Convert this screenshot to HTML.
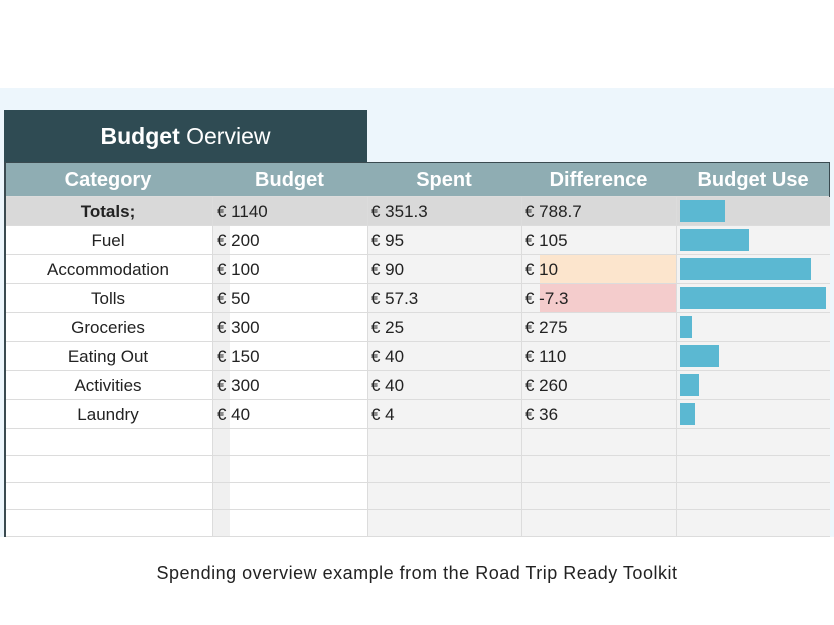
<!DOCTYPE html>
<html><head><meta charset="utf-8"><style>
body{margin:0;width:834px;height:625px;background:#fff;position:relative;overflow:hidden;font-family:"Liberation Sans",Arial,sans-serif}
.a{position:absolute;box-sizing:border-box}
.c{font-size:17px;color:#222;line-height:29px;white-space:nowrap}
.h{font-size:20px;font-weight:bold;color:#fff;line-height:34px;text-align:center}
</style></head><body>
<div class="a" style="left:0;top:88px;width:834px;height:449px;background:#edf6fc"></div>
<div class="a" style="left:4px;top:110px;width:363px;height:53px;background:#2f4b53;color:#fff;font-size:23px;line-height:53px;text-align:center"><b>Budget</b> Oerview</div>
<div id="t"></div>
<div class="a" style="left:0;top:563px;width:834px;text-align:center;font-size:18px;letter-spacing:0.5px;color:#222">Spending overview example from the Road Trip Ready Toolkit</div>
<script>
const categories=["Fuel","Accommodation","Tolls","Groceries","Eating Out","Activities","Laundry"];
const budget=[200,100,50,300,150,300,40];
const spent=[95,90,57.3,25,40,40,4];
const headers=["Category","Budget","Spent","Difference","Budget Use"];
const colX=[4,212,367,521,676,830];
const t=document.getElementById('t');
function box(x,y,w,h,bg,name){const d=document.createElement('div');d.className='a';d.style.cssText=`left:${x}px;top:${y}px;width:${w}px;height:${h}px;background:${bg}`;


t.appendChild(d);return d;}
function txt(x,y,w,s,align,name,bold){const d=box(x,y,w,29,'transparent',name);d.classList.add('c');d.textContent=s;d.style.textAlign=align;if(bold)d.style.fontWeight='bold';return d;}
const fmt=v=>String(Math.round(v*10)/10);
box(4,163,826,34,'#8fadb3','header-row');
headers.forEach((h,i)=>{const d=box(colX[i],163,colX[i+1]-colX[i],34,'transparent','header-'+h.toLowerCase().replace(' ','-'));d.classList.add('h');d.textContent=h;});
const tb=budget.reduce((a,b)=>a+b,0),ts=spent.reduce((a,b)=>a+b,0);
const rows=[{n:"Totals;",b:tb,s:ts,tot:true}].concat(categories.map((c,i)=>({n:c,b:budget[i],s:spent[i]})));
const fullW=146;
rows.forEach((r,i)=>{const y=197+i*29;const nm=r.tot?'totals':r.n.toLowerCase().replace(' ','-');
 if(r.tot){box(4,y,826,29,'#d9d9d9',nm+'-row');}
 else{box(4,y,208,29,'#fff',nm+'-cell');box(212,y,18,29,'#f0f0f0',nm+'-euro');box(230,y,137,29,'#fff',nm+'-budget-cell');box(367,y,463,29,'#f3f3f3',nm+'-rest');}
 const diff=r.b-r.s;
 if(!r.tot&&diff<0)box(540,y,136,29,'#f4cccc',nm+'-diff-neg');
 else if(!r.tot&&diff/r.b<=0.15)box(540,y,136,29,'#fce5cd',nm+'-diff-warn');
 txt(4,y,208,r.n,'center',nm+'-name',r.tot);
 txt(217,y,150,'€ '+fmt(r.b),'left',nm+'-budget');
 txt(371,y,150,'€ '+fmt(r.s),'left',nm+'-spent');
 txt(525,y,150,'€ '+fmt(diff),'left',nm+'-difference');
 const ratio=Math.min(r.s/r.b,1);
 box(680,y+3,fullW*ratio,22,'#5bb8d2',nm+'-bar');
});
for(let k=0;k<4;k++){const y=429+k*27;box(4,y,208,27,'#fff','empty-row');box(212,y,18,27,'#f0f0f0','empty-euro');box(230,y,137,27,'#fff','empty-budget');box(367,y,463,27,'#f3f3f3','empty-rest');}
for(let k=0;k<=12;k++){const y=k<=8?197+k*29:429+(k-8)*27;box(4,y-1,826,1,'#dcdcdc','row-line');}
colX.slice(1,5).forEach(x=>box(x,197,1,340,'#dcdcdc','col-line'));
box(4,163,2,374,'#3a4a50','left-border');
box(4,162,826,1,'#3a4a50','header-top-line');
box(829,162,1,35,'#3a4a50','header-right-line');
</script>
</body></html>
